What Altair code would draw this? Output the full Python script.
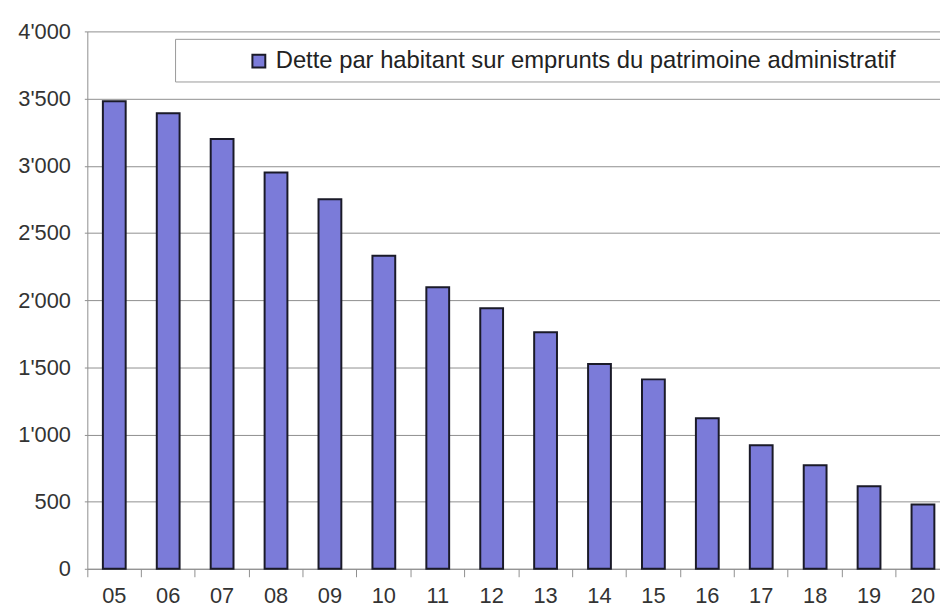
import altair as alt
import pandas as pd

years = ["05", "06", "07", "08", "09", "10", "11", "12", "13", "14", "15", "16", "17", "18", "19", "20"]
values = [3480, 3390, 3200, 2950, 2750, 2330, 2095, 1940, 1760, 1525, 1410, 1120, 920, 770, 615, 478]
series_name = "Dette par habitant sur emprunts du patrimoine administratif"
y_ticks = [0, 500, 1000, 1500, 2000, 2500, 3000, 3500, 4000]

df = pd.DataFrame({"annee": years, "dette": values, "serie": [series_name] * len(years)})

FONT = "Liberation Sans"
GRID = "#8f8f8f"
BAR = "#7b7bd9"
EDGE = "#1a1a28"

box = alt.Chart(pd.DataFrame({"k": [0]})).mark_rect(
    fill="white", stroke="#9a9a9a", strokeWidth=1
).encode(x=alt.value(89), x2=alt.value(905), y=alt.value(8), y2=alt.value(51))

bars = alt.Chart(df).mark_bar(width=23, stroke=EDGE, strokeWidth=2).encode(
    x=alt.X(
        "annee:N", sort=years, title=None,
        scale=alt.Scale(range=[0, 870], paddingInner=0, paddingOuter=0),
        axis=alt.Axis(
            bandPosition=0, labelAngle=0, tickSize=8, labelPadding=9,
            domainColor=GRID, tickColor=GRID, labelFont=FONT, labelFontSize=22,
            labelColor="#333", grid=False,
        ),
    ),
    y=alt.Y(
        "dette:Q", title=None,
        scale=alt.Scale(domain=[0, 4000], nice=False),
        axis=alt.Axis(
            values=y_ticks, labelExpr="replace(format(datum.value, ','), ',', \"'\")",
            grid=True, gridColor=GRID, gridWidth=1, tickSize=3, tickColor=GRID,
            domainColor=GRID, labelPadding=14, labelFont=FONT, labelFontSize=22,
            labelColor="#333",
        ),
    ),
    color=alt.Color(
        "serie:N", scale=alt.Scale(range=[BAR]),
        legend=alt.Legend(
            title=None, orient="none", legendX=161, legendY=18, symbolType="square",
            symbolSize=169, symbolStrokeColor=EDGE, symbolStrokeWidth=2,
            labelFont=FONT, labelFontSize=24, labelColor="#222", labelLimit=0,
            padding=0, labelOffset=5,
        ),
    ),
)

chart = alt.layer(box, bars).properties(
    width=860, height=542, autosize="none",
    padding={"left": 80, "top": 21, "right": 0, "bottom": 45},
).configure_view(stroke=None)

chart.save("out.html", embed_options={"renderer": "svg", "actions": False})
